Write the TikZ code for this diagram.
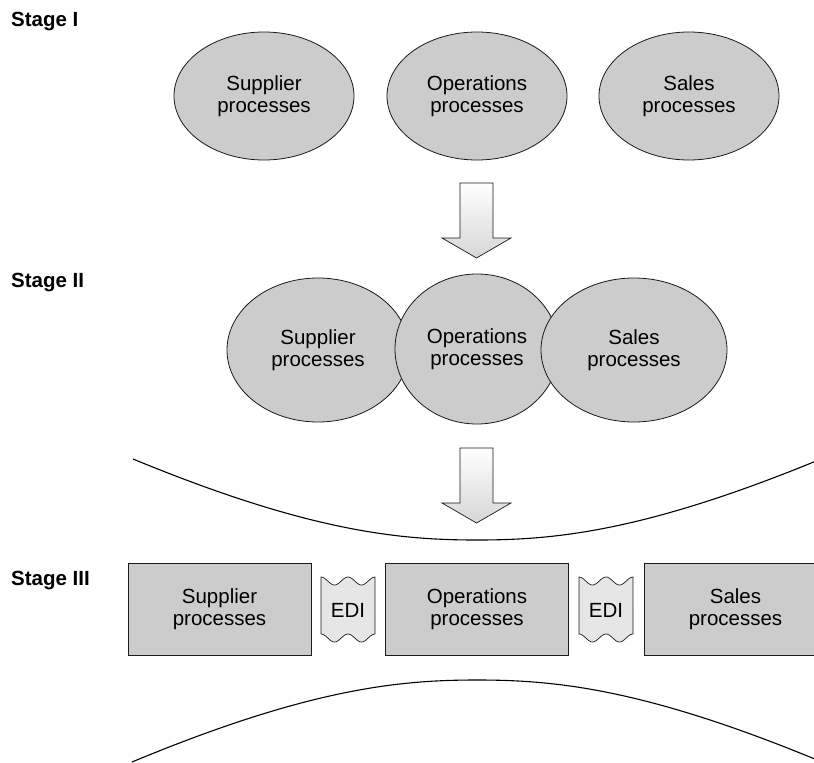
\documentclass[tikz,border=0pt]{standalone}
\usepackage{fontspec}
\setmainfont{Liberation Sans}
\usetikzlibrary{positioning,shapes.geometric,calc}
\definecolor{prgrey}{HTML}{CCCCCC}
\definecolor{edigrey}{HTML}{E6E6E6}
\definecolor{prline}{HTML}{1A1A1A}

\begin{document}
\begin{tikzpicture}[x=1pt, y=-1pt, font=\fontsize{20.5}{22.5}\selectfont,
  stagelbl/.style={anchor=base west, inner sep=0pt, font=\fontsize{20.5}{22.5}\selectfont\bfseries},
  proc/.style={ellipse, draw=prline, line width=0.8pt, fill=prgrey, align=center, inner sep=0pt},
  procbox/.style={rectangle, draw=prline, line width=0.8pt, fill=prgrey, align=center,
    minimum width=183pt, minimum height=92pt},
  edibox/.style={draw=prline, line width=0.7pt, fill=edigrey},
  edilbl/.style={inner sep=0pt},
  blockarr/.style={draw=prline, line width=0.7pt, top color=white, bottom color=prgrey!80},
  sweep/.style={line width=1.1pt, draw=black}]
  \useasboundingbox (0,0) rectangle (814,763);
  \clip (0,0) rectangle (814,763);
  % stage labels
  \node[stagelbl] (lbl1) at (11,26)  {Stage I};
  \node[stagelbl] (lbl2) at (11,287) {Stage II};
  \node[stagelbl] (lbl3) at (11,585) {Stage III};
  % stage I: separate processes
  \foreach \n/\cx/\t in {sup1/264/Supplier, ops1/477/Operations, sal1/689/Sales}
    \node[proc, minimum width=180pt, minimum height=128pt] (\n) at (\cx,96) {\t\\processes};
  % stage II: overlapping processes
  \node[proc, minimum width=182pt, minimum height=144pt] (sup2) at (318,350) {Supplier\\processes};
  \node[proc, minimum width=164pt, minimum height=150pt] (ops2) at (477,349) {Operations\\processes};
  \node[proc, minimum width=186pt, minimum height=144pt] (sal2) at (634,350) {Sales\\processes};
  % block arrows between stages
  \foreach \ty in {183,448}
    \shade[blockarr] (460,\ty) -- (493,\ty) -- (493,\ty+55) -- (511,\ty+55)
      -- (476.5,\ty+75) -- (442,\ty+55) -- (460,\ty+55) -- cycle;
  % stage III: linked by EDI
  \node[procbox] (sup3) at (219.5,609) {Supplier\\processes};
  \node[procbox] (ops3) at (477,609)   {Operations\\processes};
  \node[procbox] (sal3) at (735.5,609) {Sales\\processes};
  \foreach \n/\cx in {edia/348, edib/606} {
    \draw[edibox] plot[domain=0:1, samples=41] ({\cx-27+54*\x}, {581-4*cos(720*\x)})
      -- plot[domain=1:0, samples=41] ({\cx-27+54*\x}, {638-4*cos(720*\x)}) -- cycle;
    \node[edilbl] (\n) at (\cx,610) {EDI};
  }
  % bounding curves
  \draw[sweep] (133,459) .. controls (310,532) and (400,540) .. (477,540)
    .. controls (554,540) and (644,532) .. (821,459);
  \draw[sweep] (132,762) .. controls (310,688) and (400,680) .. (477,680)
    .. controls (554,680) and (644,688) .. (822,762);
\end{tikzpicture}
\end{document}
